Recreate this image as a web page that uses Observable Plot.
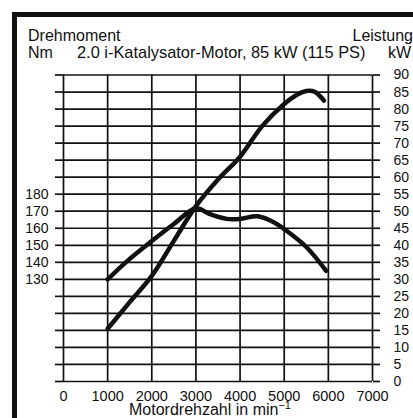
<!DOCTYPE html>
<html>
<head>
<meta charset="utf-8">
<script src="https://cdn.jsdelivr.net/npm/d3@7"></script>
<script src="https://cdn.jsdelivr.net/npm/@observablehq/plot@0.6"></script>
<style>
  html, body { margin: 0; padding: 0; background: #fff; overflow: hidden; }
  svg text { font-family: "Liberation Sans", Arial, sans-serif; }
</style>
</head>
<body>
<div id="chart"></div>
<script>
// Data
const powerRpm = [1000, 1500, 2000, 2500, 3000, 3500, 4000, 4500, 5000, 5300, 5500, 5700, 5900];
const powerKw  = [15.5, 23.3, 31, 41.3, 51.5, 59.3, 66, 75, 81.5, 84.3, 85.3, 85, 82.5];
const torqueRpm = [1000, 1500, 2000, 2500, 3000, 3300, 3700, 4000, 4400, 4800, 5000, 5500, 5950];
const torqueNm  = [130, 142, 152.5, 162.5, 171.8, 168.5, 165.5, 165.5, 167, 163, 159.5, 149, 135];
const xTicks = [0, 1000, 2000, 3000, 4000, 5000, 6000, 7000];
const kwTicks = d3.range(0, 91, 5);
const nmLabels = [130, 140, 150, 160, 170, 180];
// torque axis alignment: 130 Nm at 30 kW, 180 Nm at 55 kW
const nmToKw = nm => (nm - 70) / 2;
const kwToNm = kw => kw * 2 + 70;

const titleLeft1 = "Drehmoment";
const titleLeft2 = "Nm";
const subtitle = "2.0 i-Katalysator-Motor, 85 kW (115 PS)";
const titleRight1 = "Leistung";
const titleRight2 = "kW";
const xLabel = "Motordrehzahl in min";

const power = powerRpm.map((r, i) => ({rpm: r, kw: powerKw[i]}));
const torque = torqueRpm.map((r, i) => ({rpm: r, kw: nmToKw(torqueNm[i])}));
const nmKwTicks = nmLabels.map(nmToKw);

const ink = "#111";
const plot = Plot.plot({
  width: 413,
  height: 418,
  marginLeft: 63,
  marginRight: 41,
  marginTop: 74.5,
  marginBottom: 37,
  style: {background: "#fff", fontFamily: "Liberation Sans, Arial, sans-serif", color: ink},
  x: {domain: [0, 7000]},
  y: {domain: [0, 90]},
  marks: [
    Plot.gridY(kwTicks, {stroke: ink, strokeOpacity: 1, strokeWidth: 1.7}),
    Plot.gridX(xTicks, {stroke: ink, strokeOpacity: 1, strokeWidth: 1.7}),
    Plot.axisY(kwTicks, {anchor: "left", tickSize: 8, tickPadding: 7, stroke: ink, strokeWidth: 1.7,
      tickFormat: d => (nmKwTicks.includes(d) ? String(kwToNm(d)) : ""), fontSize: 14, label: null}),
    Plot.axisY(kwTicks, {anchor: "right", tickSize: 7, tickPadding: 14, stroke: ink, strokeWidth: 1.7,
      textAnchor: "start", tickFormat: d => String(d), fontSize: 14, label: null}),
    Plot.axisX(xTicks, {anchor: "bottom", tickSize: 0, tickPadding: 9, fontSize: 14.5,
      tickFormat: d => String(d), label: null}),
    Plot.line(torque, {x: "rpm", y: "kw", curve: "catmull-rom", stroke: ink, strokeWidth: 4.5}),
    Plot.line(power, {x: "rpm", y: "kw", curve: "catmull-rom", stroke: ink, strokeWidth: 4.5})
  ]
});

const svg = d3.select(plot);
svg.append("rect").attr("x", 14.5).attr("y", 14.5).attr("width", 430).attr("height", 430)
  .attr("fill", "none").attr("stroke", ink).attr("stroke-width", 5);
const addText = (t, x, y, anchor, size) => svg.append("text").attr("x", x).attr("y", y)
  .attr("text-anchor", anchor).attr("font-size", size).attr("fill", ink).text(t);
addText(titleLeft1, 28, 40.5, "start", 16);
addText(titleLeft2, 28, 58, "start", 16);
addText(subtitle, 77, 58, "start", 16.4);
addText(titleRight1, 413, 40.5, "end", 16);
addText(titleRight2, 388, 58, "start", 16);
const xl = addText(xLabel, 210, 415, "middle", 16);
xl.append("tspan").attr("dy", -6).attr("font-size", 11).text("−1");

document.getElementById("chart").appendChild(plot);
</script>
</body>
</html>
